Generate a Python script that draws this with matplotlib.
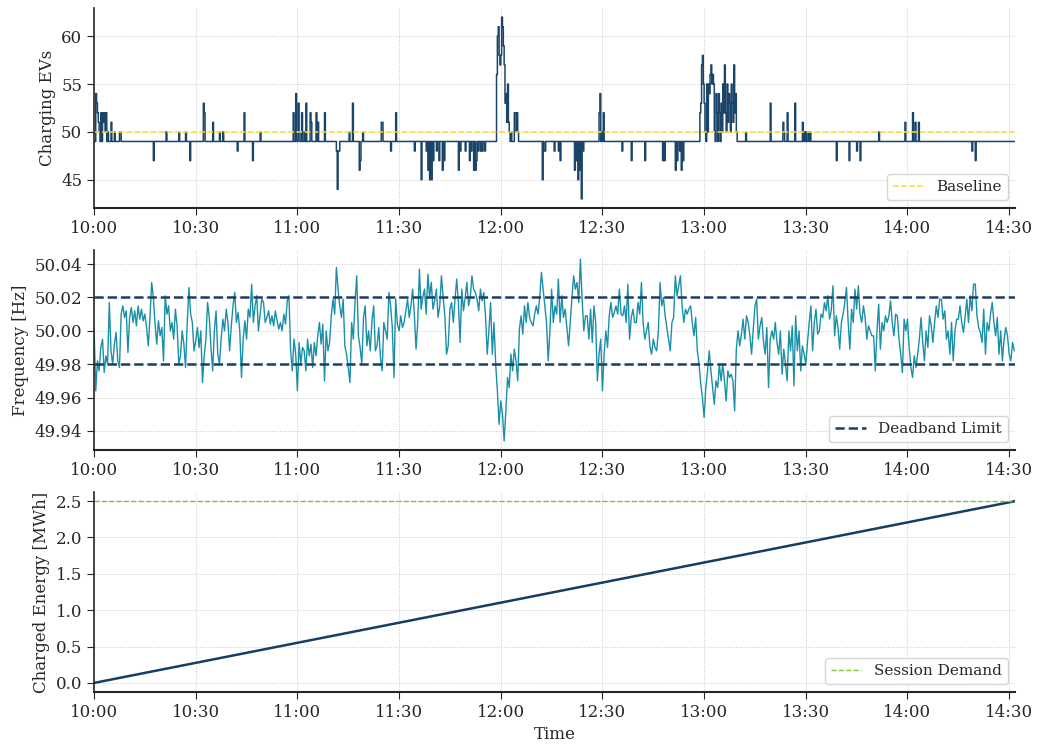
import numpy as np
import pandas as pd
import matplotlib
matplotlib.use('Agg')
import matplotlib.pyplot as plt
import matplotlib.dates as mdates
import seaborn as sns

# ---- data ----
start = pd.Timestamp('2024-01-01 10:00')

# charging EVs: baseline count and the spikes away from it (minute after 10:00, count)
ev_base = 49
ev_minutes = [0.5, 0.75, 1.0, 1.25, 1.5, 2.0, 2.5, 2.75, 3.0, 3.25, 3.5, 4.0, 5.0, 6.0, 7.5, 7.75,
              17.5, 21.25, 25.0, 27.0, 28.25, 32.25, 32.5, 35.0, 37.0, 38.0, 42.25, 44.25, 46.75, 49.0,
              58.75, 59.5, 60.25, 60.5, 61.25, 62.0, 62.5, 63.75, 64.0, 65.5, 66.0, 68.0,
              71.5, 71.75, 72.0, 72.25, 75.25, 76.25, 78.25, 78.5, 79.25, 84.75, 85.0, 87.5, 89.0,
              94.5, 96.5, 98.0, 98.5, 99.0, 99.5, 100.0, 101.0, 101.75, 102.75, 103.25,
              107.5, 108.0, 109.5, 110.75, 111.25, 112.0, 112.5, 112.75, 113.25, 114.0, 114.5, 115.25,
              118.75, 119.0, 119.25, 119.5, 119.75, 120.0, 120.25, 120.5, 120.75, 121.0, 121.25,
              121.5, 121.75, 122.0, 122.25, 122.5, 122.75, 123.0, 123.5, 124.0, 124.25, 124.5, 124.75, 125.0, 125.25,
              132.25, 132.75, 133.0, 135.75, 137.0, 137.5, 141.75, 142.25, 142.75, 143.25, 143.75, 144.25,
              149.0, 149.25, 149.75, 150.25, 155.75, 158.5, 162.5, 167.75, 168.25,
              171.5, 172.0, 172.75, 173.25, 173.75,
              178.75, 179.0, 179.25, 179.5, 179.75, 180.0, 180.25, 180.5, 180.75, 181.0, 181.25, 181.5,
              181.75, 182.0, 182.25, 182.5, 182.75, 183.0, 183.25, 183.5, 183.75, 184.0, 184.25, 184.5,
              184.75, 185.0, 185.25, 185.5, 185.75, 186.0, 186.25, 186.5, 186.75, 187.0, 187.25, 187.5,
              187.75, 188.0, 188.25, 188.5, 188.75, 189.0, 189.25, 189.5,
              192.25, 199.5, 203.25, 203.5, 204.5, 206.75, 209.0, 209.5, 210.0, 210.75, 211.25,
              219.0, 222.75, 225.0, 226.0, 231.5, 239.25, 241.5, 242.25, 243.25, 259.0, 260.0]
ev_values = [54, 53, 52, 51, 50, 52, 52, 51, 52, 50, 52, 50, 51, 50, 50, 50,
             47, 50, 50, 50, 47, 53, 52, 51, 50, 50, 48, 52, 47, 50,
             52, 54, 53, 50, 52, 50, 53, 52, 51, 52, 51, 52,
             48, 44, 48, 48, 50, 53, 46, 47, 50, 51, 51, 48, 52,
             48, 45, 48, 46, 45, 45, 47, 48, 47, 46, 47,
             46, 48, 48, 47, 48, 46, 46, 47, 48, 48, 48, 48,
             56, 60, 61, 58, 57, 58, 62, 61, 59, 57, 53,
             54, 51, 55, 51, 50, 49, 50, 49, 52, 52, 50, 52, 50, 49,
             45, 48, 48, 48, 48, 47, 46, 47, 45, 46, 43, 48,
             52, 54, 50, 52, 48, 47, 47, 47, 47,
             46, 47, 48, 46, 47,
             52, 53, 57, 58, 55, 53, 50, 49, 55, 50, 55, 54,
             56, 57, 55, 56, 55, 50, 49, 54, 52, 49, 54, 52,
             49, 53, 50, 55, 52, 57, 52, 50, 55, 51, 54, 53,
             50, 55, 53, 51, 57, 52, 54, 50,
             50, 53, 51, 50, 52, 53, 51, 50, 50, 50, 50,
             47, 47, 48, 47, 50, 51, 52, 51, 51, 48, 47]
ev_step_min = 0.25
ev_end_min = 271.75

# grid frequency, deviation from 50 Hz in mHz, one value every 30 s from 10:00
freq_dev_mhz = [
    2, -36, -18, -24, -10, -5, -25, -15, -20, 17,
    -12, -20, -8, -1, -18, -22, 10, 15, 8, 12,
    -13, 8, 14, 5, 12, 3, 15, 7, 13, 6,
    10, 2, -9, 8, 29, 20, 4, -8, 6, -3,
    2, -18, 21, 10, 15, 0, 5, -5, 13, 3,
    -20, -15, 0, -8, -22, 5, 26, 10, 5, -12,
    -6, 2, -10, 0, -31, -15, -5, 17, 8, -10,
    -24, 0, 12, -14, -20, -5, 7, 0, 13, 5,
    -12, 3, 15, 23, 5, 11, 0, -28, -5, 6,
    -5, 13, 8, 28, 5, 15, 21, 0, 10, 19,
    17, 5, 8, 12, 4, 9, 3, 12, 6, 1,
    5, 0, 10, 4, 18, 21, -12, -24, -5, -14,
    -36, -7, -20, -10, -12, -24, -5, -15, -8, -22,
    -7, -15, -3, 5, -8, 4, -30, 0, -12, -7,
    9, 19, 10, 38, 25, 15, 8, 19, -9, -14,
    -22, -31, 5, -5, 17, 33, -3, -10, -20, 8,
    15, -9, 0, -12, 6, 15, -12, -9, 2, -16,
    -24, 5, 0, -5, 23, 15, 2, -28, 19, 4,
    0, 9, 2, 5, 12, 19, 8, 15, 25, 10,
    -11, 5, 37, 13, 20, 25, 10, 34, 20, 29,
    13, 18, 25, 8, 15, 33, 20, 9, -14, -9,
    13, 17, 5, 19, 31, 17, -7, 25, 12, 20,
    29, 15, 20, 33, 25, 23, 19, 12, 25, 18,
    23, 9, -14, 0, 17, -14, 5, -20, -36, -56,
    -42, -50, -66, -48, -28, -34, -14, -24, -11, -18,
    -30, 1, 9, -2, 15, 5, 17, 8, 5, 3,
    10, 15, 10, 20, 35, 25, 15, 5, -18, 0,
    25, 5, 15, 10, 31, 5, 21, 8, 13, 2,
    -9, 5, 20, 33, 25, 29, 17, 43, 19, 0,
    9, 9, -5, 13, -7, 15, 5, -30, -14, -5,
    -36, -14, 0, -10, 9, 17, 8, 11, 15, 10,
    25, 10, 9, 15, 5, 28, -5, 8, 13, 5,
    5, 17, 10, 29, 5, -5, 0, 5, -9, -14,
    -5, -10, -12, 0, 29, 15, 20, 9, 2, -5,
    -12, 5, 8, 33, 21, 27, 33, 15, 5, 13,
    10, 13, 15, 5, -3, 8, -12, -20, -32, -40,
    -52, -34, -24, -12, -24, -34, -44, -30, -34, -20,
    -30, -20, -30, -42, -24, -28, -26, -30, -48, -11,
    0, -9, -2, 7, -5, 9, 5, -3, -14, 1,
    15, 19, -5, 3, 8, -6, -14, 2, -34, -5,
    0, -5, 5, -7, -14, 0, -26, -11, -20, -30,
    0, -12, 3, -33, 9, -12, 0, -24, -9, -14,
    -20, -7, 5, 15, -12, 5, 13, -2, 0, 10,
    8, 17, 12, 21, 7, 12, 27, -3, 9, 2,
    -11, 5, 10, 17, 26, 5, -11, 13, 5, 25,
    13, 27, 10, 5, 15, 8, -5, 3, 0, -3,
    -3, -24, 0, 16, -11, 5, 0, 9, 5, 9,
    18, 5, -3, 10, 9, -5, -14, -25, 7, 0,
    7, -10, -22, -28, -15, -22, -14, -5, 8, -7,
    -18, 0, -10, 9, 3, -7, 5, 15, 8, 19,
    19, 7, 12, -5, 0, -14, 5, -18, 0, 7,
    7, 15, 5, -1, 8, 19, 5, 21, 12, 28,
    28, 9, 2, -1, -7, 13, -14, 5, 0, 10,
    17, 5, -3, 8, -14, 0, -18, -5, 2, -3,
    -14, -18, -7, -12,
]
freq_step_sec = 30
deadband = [49.98, 50.02]

# charged energy (MWh) at half-hour marks, last point at end of session
energy_minutes = [0, 30, 60, 90, 120, 150, 180, 210, 240, 271.75]
energy_mwh = [0.0, 0.276, 0.552, 0.828, 1.104, 1.38, 1.656, 1.932, 2.208, 2.5]
session_demand = 2.5
baseline = 50

# ---- build time axes ----
ev_t = start + pd.to_timedelta(np.arange(0, ev_end_min + ev_step_min / 2, ev_step_min), unit='m')
ev = pd.Series(ev_base, index=ev_t)
for m, v in zip(ev_minutes, ev_values):
    ev[start + pd.Timedelta(minutes=m)] = v

freq_t = start + pd.to_timedelta(np.arange(len(freq_dev_mhz)) * freq_step_sec, unit='s')
freq = 50 + np.array(freq_dev_mhz) / 1000.0

energy_t = start + pd.to_timedelta(energy_minutes, unit='m')

# ---- plot ----
sns.set_style('ticks')
plt.rcParams['font.family'] = ['DejaVu Serif']
plt.rcParams['font.size'] = 12

navy = '#1b4469'
teal = '#1a90a8'
yellow = '#f5e12a'
green = '#7cc23a'

fig = plt.figure(figsize=(10.38, 7.47), dpi=100)
ax1 = fig.add_axes([0.0906, 0.7216, 0.8875, 0.2677])
ax2 = fig.add_axes([0.0906, 0.3976, 0.8875, 0.2677])
ax3 = fig.add_axes([0.0906, 0.0736, 0.8875, 0.2677])

ax1.step(ev.index, ev.values, where='post', color=navy, lw=1.1)
ax1.axhline(baseline, color=yellow, ls='--', lw=1.1, label='Baseline')
ax1.set_ylabel('Charging EVs')
ax1.set_yticks([45, 50, 55, 60])

ax2.plot(freq_t, freq, color=teal, lw=1.0)
ax2.axhline(deadband[1], color='#1d3d63', ls='--', lw=1.8, label='Deadband Limit')
ax2.axhline(deadband[0], color='#1d3d63', ls='--', lw=1.8)
ax2.set_ylabel('Frequency [Hz]')
ax2.set_yticks([49.94, 49.96, 49.98, 50.00, 50.02, 50.04])
ax2.yaxis.set_major_formatter(matplotlib.ticker.FormatStrFormatter('%.2f'))

ax3.plot(energy_t, energy_mwh, color='#163d63', lw=1.8)
ax3.axhline(session_demand, color=green, ls='--', lw=1.0, label='Session Demand')
ax3.set_ylabel('Charged Energy [MWh]')
ax3.set_xlabel('Time')
ax3.set_yticks([0.0, 0.5, 1.0, 1.5, 2.0, 2.5])

for ax in (ax1, ax2, ax3):
    ax.set_xlim(start, start + pd.Timedelta(minutes=271.8))
    ax.xaxis.set_major_locator(mdates.MinuteLocator(byminute=[0, 30]))
    ax.xaxis.set_major_formatter(mdates.DateFormatter('%H:%M'))
    ax.grid(True, ls=':', lw=0.7, color='#c8c8c8')
    for s in ('top', 'right'):
        ax.spines[s].set_visible(False)
    ax.spines['bottom'].set_linewidth(1.5)
    ax.spines['left'].set_linewidth(1.2)
    ax.tick_params(labelsize=12, length=5)
    ax.legend(loc='lower right', fontsize=11, frameon=True)

fig.savefig('out.png', dpi=100)
